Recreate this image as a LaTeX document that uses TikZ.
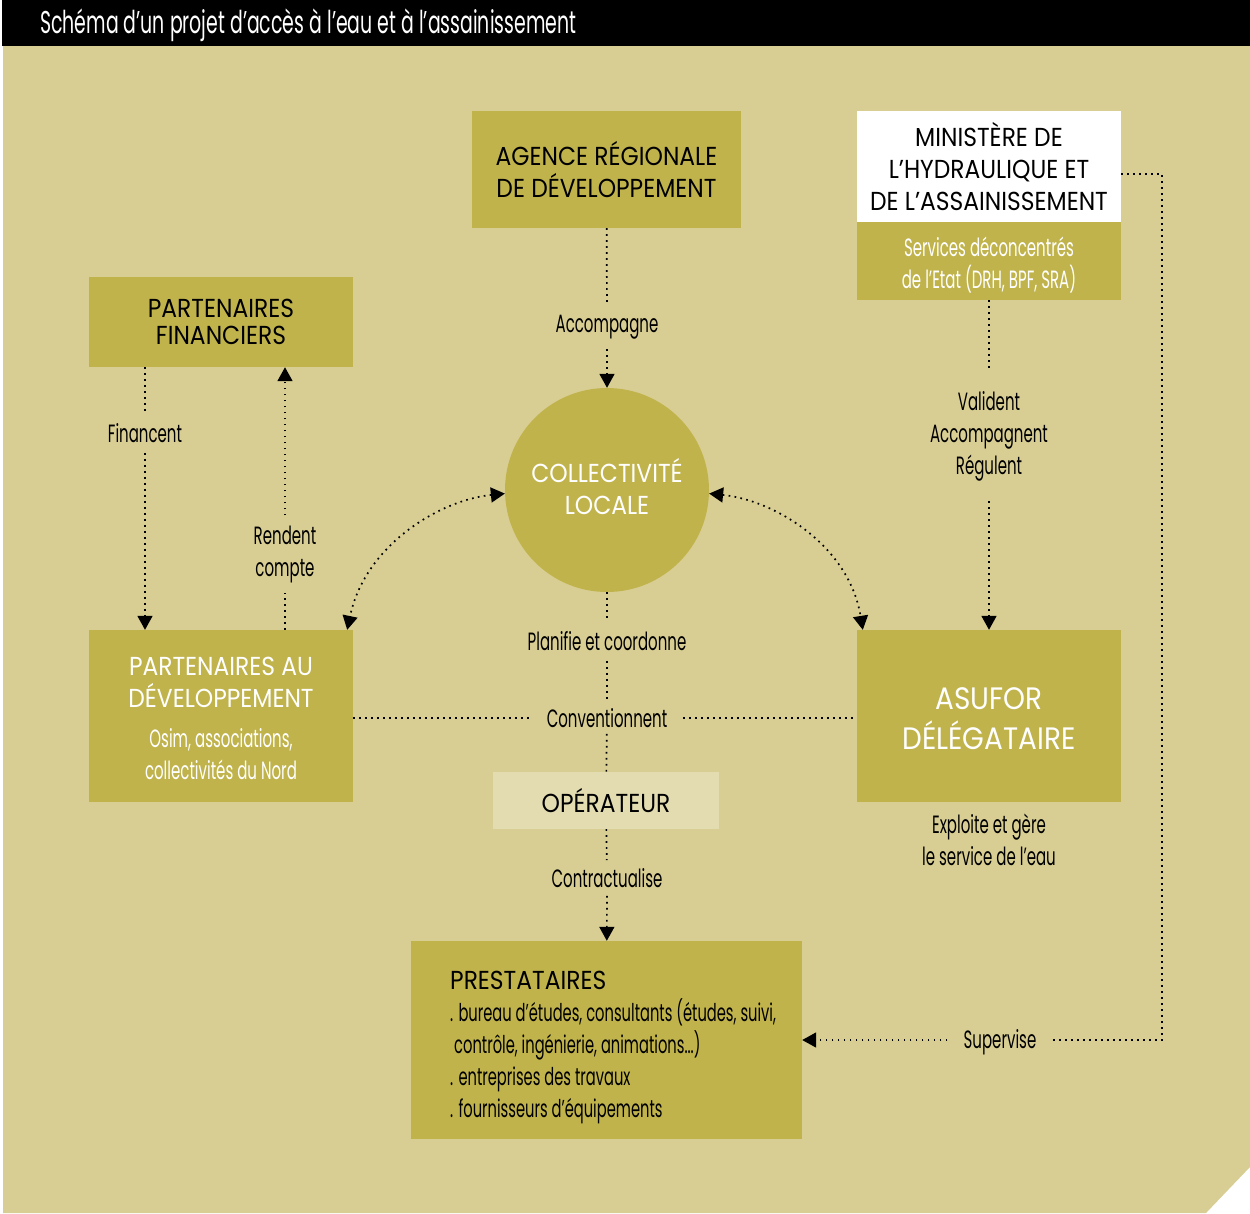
\documentclass[tikz,border=0pt]{standalone}
\usepackage{fontspec}
\setmainfont{Poppins}
\newfontfamily\capsf[FakeStretch=0.9]{Poppins}
\newfontfamily\cnd[FakeStretch=0.6]{Poppins}
\newcommand\cf{\cnd\fontsize{25}{32}\selectfont}
\newcommand\kf{\capsf\fontsize{26}{32}\selectfont}
\usetikzlibrary{arrows.meta}
\definecolor{bg}{HTML}{D8CE93}
\definecolor{boxc}{HTML}{C0B34C}
\definecolor{opc}{HTML}{E3DCB1}
\begin{document}
\begin{tikzpicture}[x=1pt,y=-1pt,
  >={Triangle[width=15pt,length=14pt]},
  box/.style={fill=boxc, draw=none, inner sep=0pt, align=center},
  capt/.style={font=\kf},
  lab/.style={font=\cf, align=center, inner xsep=16pt, inner ysep=10pt},
  dots/.style={line width=1.7pt, dash pattern=on 1.7pt off 4.3pt}]
\useasboundingbox (0,0) rectangle (1250,1213);
\fill[white] (0,0) rectangle (1250,1213);
\fill[bg] (3,46) -- (1250,46) -- (1250,1167) -- (1206,1213) -- (3,1213) -- cycle;
\fill[black] (2,0) rectangle (1250,46);
\node[anchor=west, text=white, font=\cnd\fontsize{31.5}{32}\selectfont, inner sep=0pt] (title) at (40,25) {Schéma d’un projet d’accès à l’eau et à l’assainissement};

% boxes
\node[box, capt, minimum width=269pt, minimum height=117pt] (agence) at (606.5,169.5) {AGENCE RÉGIONALE\\DE DÉVELOPPEMENT};
\node[box, capt, fill=white, minimum width=264pt, minimum height=111pt] (min) at (989,166.5) {MINISTÈRE DE\\L’HYDRAULIQUE ET\\DE L’ASSAINISSEMENT};
\node[box, minimum width=264pt, minimum height=78pt] (services) at (989,261) {};
\node[text=white, font=\cf, align=center, inner sep=0pt] (servtxt) at (989,265) {Services déconcentrés\\de l’Etat (DRH, BPF, SRA)};
\node[box, capt, minimum width=264pt, minimum height=90pt] (pf) at (221,322) {PARTENAIRES\\[-5pt]FINANCIERS};
\node[circle, fill=boxc, draw=none, minimum size=204pt, inner sep=0pt] (circ) at (607,490) {};
\node[align=center, capt, text=white, inner sep=0pt] (circtxt) at (607,487) {COLLECTIVITÉ\\LOCALE};
\node[box, minimum width=264pt, minimum height=172pt] (pad) at (221,716) {};
\node[align=center, text=white, capt, inner sep=0pt] (padtxt) at (221,718) {PARTENAIRES AU\\DÉVELOPPEMENT\\[8pt]\cf Osim, associations,\\\cf collectivités du Nord};
\node[box, minimum width=264pt, minimum height=172pt] (asufor) at (989,716) {};
\node[align=center, text=white, inner sep=0pt, font=\capsf\fontsize{31}{40}\selectfont] (asutxt) at (989,719) {ASUFOR\\DÉLÉGATAIRE};
\node[box, capt, fill=opc, minimum width=226pt, minimum height=57pt] (ope) at (606,800.5) {OPÉRATEUR};
\node[box, minimum width=391pt, minimum height=198pt] (prest) at (606.5,1040) {};
\node[anchor=west, align=left, inner sep=0pt, font=\cnd\fontsize{24.5}{32}\selectfont] (presttxt) at (450,1047) {\kf PRESTATAIRES\\. bureau d’études, consultants (études, suivi,\\\hspace*{4pt}contrôle, ingénierie, animations...)\\. entreprises des travaux\\. fournisseurs d’équipements};

% labels
\node[lab] (acc) at (607,327) {Accompagne};
\node[lab] (fin) at (145,433) {Financent};
\node[lab] (rend) at (285,554) {Rendent\\compte};
\node[lab, inner ysep=20pt] (val) at (989,436) {Valident\\Accompagnent\\Régulent};
\node[lab] (plan) at (607,641) {Planifie et coordonne};
\node[lab, inner ysep=6pt] (conv) at (607,718) {Conventionnent};
\node[lab, inner ysep=8pt] (contr) at (607,878) {Contractualise};
\node[lab] (sup) at (1000,1042) {Supervise};
\node[lab] (expl) at (989,840) {Exploite et gère\\le service de l’eau};
\coordinate (c1) at (1162,174);
\coordinate (c2) at (1162,1040);

% connectors
\draw[dots] (agence) -- (acc);
\draw[dots,->] (acc) -- (circ);
\draw[dots] (fin |- pf.south) -- (fin);
\draw[dots,->] (fin) -- (fin |- pad.north);
\draw[dots] (rend |- pad.north) -- (rend);
\draw[dots,->] (rend) -- (rend |- pf.south);
\draw[dots] (services) -- (val);
\draw[dots,->] (val) -- (asufor);
\draw[dots] (circ) -- (plan);
\draw[dots] (plan) -- (conv);
\draw[dots] (conv) -- (ope);
\draw[dots] (pad.east |- conv) -- (conv);
\draw[dots] (conv) -- (conv -| asufor.west);
\draw[dots] (ope) -- (contr);
\draw[dots,->] (contr) -- (prest);
\draw[dots] (min.east |- c1) -- (c1) -- (c2) -- (sup.east |- c2);
\draw[dots,->] (sup.west |- c2) -- (c2 -| prest.east);
\draw[dots,<->] (circ.182) .. controls (440,500) and (365,545) .. ([xshift=-6pt]pad.north east);
\draw[dots,<->] (circ.-2) .. controls (774,500) and (849,545) .. ([xshift=6pt]asufor.north west);
\end{tikzpicture}
\end{document}
